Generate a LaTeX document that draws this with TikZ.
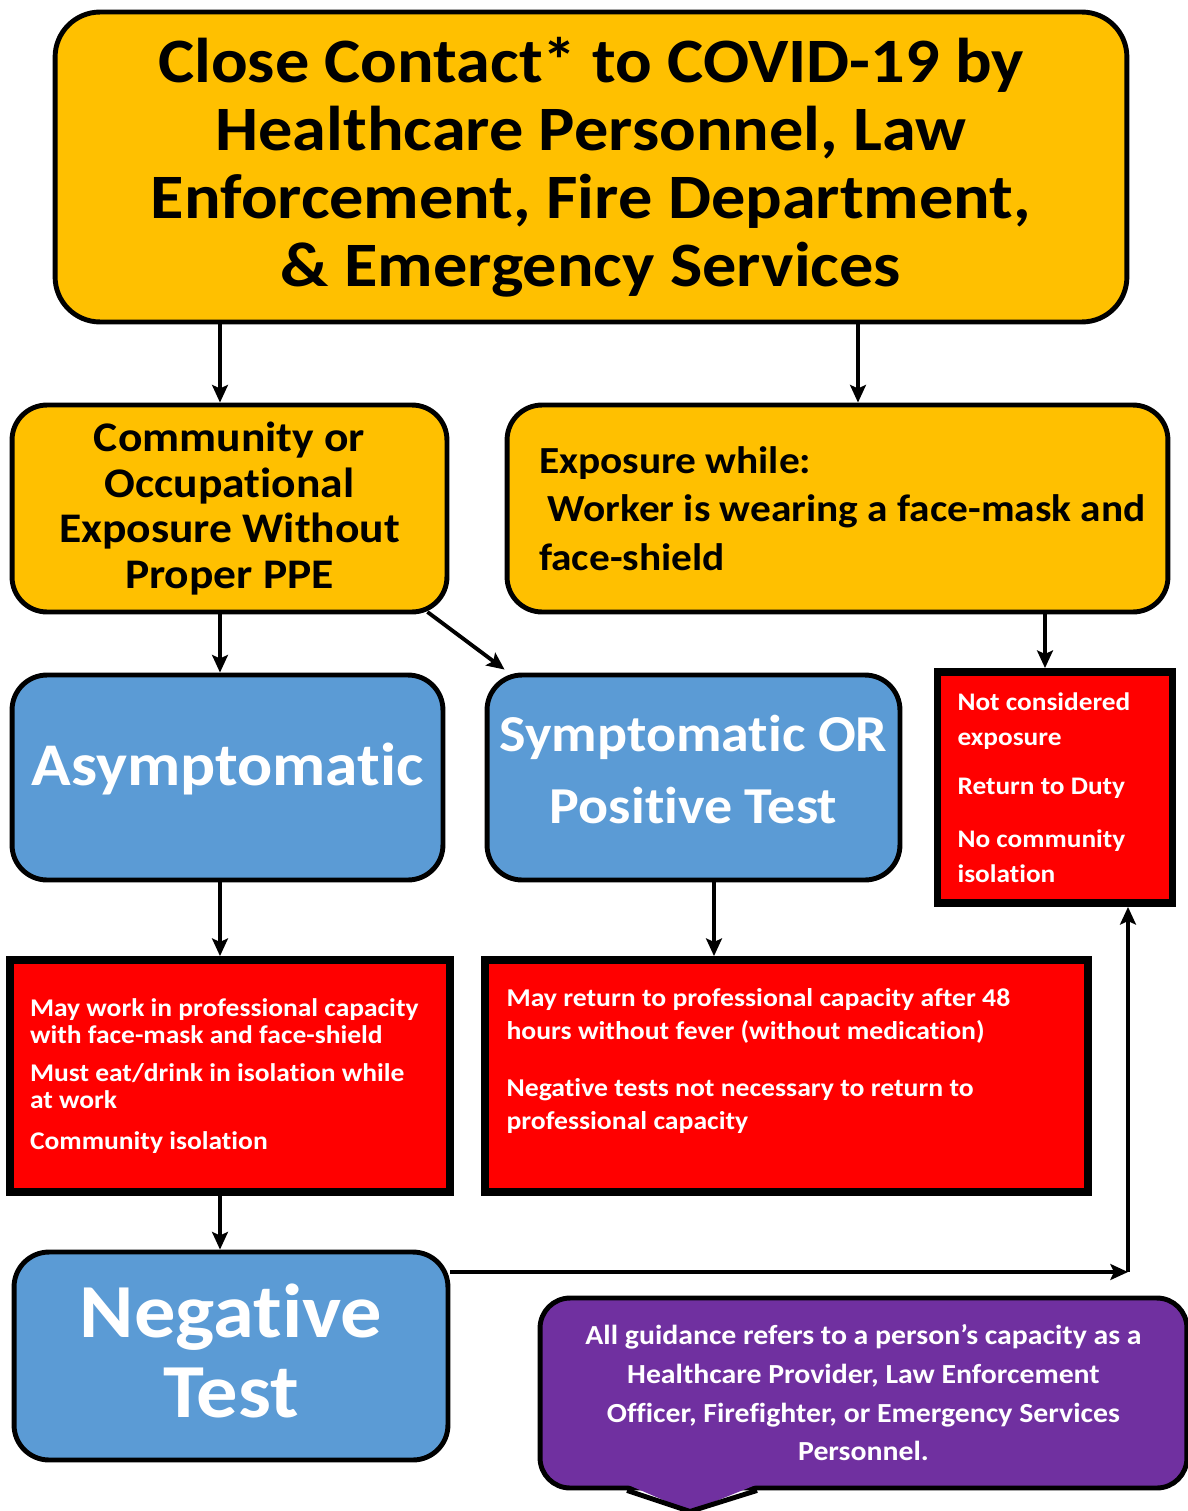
\documentclass[tikz,border=0pt]{standalone}
\usepackage{fontspec}
\setmainfont{Carlito}[FakeStretch=1.08, Ligatures=NoCommon]
\usetikzlibrary{arrows.meta}
\definecolor{boxorange}{HTML}{FFC000}
\definecolor{boxblue}{HTML}{5B9BD5}
\definecolor{boxred}{HTML}{FF0000}
\definecolor{boxpurple}{HTML}{7030A0}
\tikzset{
  orangebox/.style={draw=black, line width=2.8pt, fill=boxorange, rounded corners=0.7cm, align=center},
  bluebox/.style={draw=black, line width=2.8pt, fill=boxblue, rounded corners=0.7cm, align=center, text=white},
  redbox/.style={draw=black, line width=4.5pt, fill=boxred, text=white, align=flush left, inner xsep=0.4cm},
  arr/.style={line width=2.2pt, -{Stealth[length=10pt,width=9pt,inset=2pt]}}
}
\begin{document}
\begin{tikzpicture}[x=0.02cm, y=-0.02cm]
\useasboundingbox (0,0) rectangle (1187,1511);
%% Top box with the main heading
\node[orangebox, minimum width=21.44cm, minimum height=6.2cm, rounded corners=0.9cm,
  font=\bfseries\fontsize{36}{38.8}\selectfont] (contact) at (591,167)
  {Close Contact* to COVID-19 by\\Healthcare Personnel, Law\\Enforcement, Fire Department,\\\& Emergency Services};
%% Second row: the two kinds of exposure
\node[orangebox, minimum width=8.7cm, minimum height=4.14cm, font=\bfseries\fontsize{24}{26}\selectfont] (community) at (229.5,508.5)
  {Community or\\Occupational\\Exposure Without\\Proper PPE};
\node[orangebox, minimum width=13.22cm, minimum height=4.14cm, align=flush left, text width=12.7cm,
  font=\bfseries\fontsize{21.8}{27.5}\selectfont] (masked) at (837.5,508.5)
  {\hspace*{0.38cm}Exposure while:\\\hspace*{0.55cm}Worker is wearing a face-mask and\\\hspace*{0.38cm}face-shield};
%% Third row
\node[bluebox, minimum width=8.62cm, minimum height=4.1cm, text depth=15pt, font=\bfseries\fontsize{34.5}{40}\selectfont] (asym) at (227.5,777.5)
  {Asymptomatic};
\node[bluebox, minimum width=8.26cm, minimum height=4.1cm, text depth=9pt, font=\bfseries\fontsize{29.5}{41}\selectfont] (sym) at (693.5,777.5)
  {Symptomatic OR\\Positive Test};
\node[redbox, minimum width=4.6cm, minimum height=4.62cm, text width=3.9cm,
  font=\bfseries\fontsize{14.4}{20}\selectfont] (noexp) at (1055,787.5)
  {Not considered\\exposure\\[8pt]Return to Duty\\[10pt]No community\\isolation};
%% Fourth row: what to do
\node[redbox, minimum width=8.8cm, minimum height=4.64cm, text width=8.0cm,
  font=\bfseries\fontsize{14.5}{15.5}\selectfont] (work) at (230,1076)
  {May work in professional capacity\\with face-mask and face-shield\\[6pt]Must eat/drink in isolation while\\at work\\[8pt]Community isolation};
\node[redbox, minimum width=12.06cm, minimum height=4.64cm,
  font=\bfseries\fontsize{14.6}{19}\selectfont] (return) at (786.5,1076)
  {\parbox[c][4.1cm][t]{11.2cm}{\raggedright\vspace*{0.3cm}May return to professional capacity after 48\\hours without fever (without medication)\\[13pt]Negative tests not necessary to return to\\professional capacity}};
%% Bottom row
\node[bluebox, minimum width=8.68cm, minimum height=4.16cm, text depth=6pt, font=\bfseries\fontsize{43.5}{46}\selectfont] (neg) at (231,1356)
  {Negative\\Test};
\node[fill=boxpurple, draw=black, line width=2.8pt, rounded corners=0.6cm, minimum width=12.94cm, minimum height=3.8cm,
  text=white, align=center, font=\bfseries\fontsize{15.7}{22}\selectfont] (note) at (863.5,1393)
  {All guidance refers to a person's capacity as a\\Healthcare Provider, Law Enforcement\\Officer, Firefighter, or Emergency Services\\Personnel.};
%% the little point under the purple box
\fill[boxpurple] ([xshift=-4.73cm,yshift=0.12cm]note.south) -- ([xshift=-2.13cm,yshift=0.12cm]note.south) -- ([xshift=-3.47cm,yshift=-0.42cm]note.south) -- cycle;
\draw[line width=2.8pt, line join=round] ([xshift=-4.73cm]note.south) -- ([xshift=-3.47cm,yshift=-0.42cm]note.south) -- ([xshift=-2.13cm]note.south);
%% Connectors
\draw[arr] ([xshift=-0.19cm]community.north |- contact.south) -- ([xshift=-0.19cm]community.north);
\draw[arr] ([xshift=0.41cm]masked.north |- contact.south) -- ([xshift=0.41cm]masked.north);
\draw[arr] ([xshift=-0.15cm]asym.north |- community.south) -- ([xshift=-0.15cm]asym.north);
\draw[arr] ([xshift=-0.44cm,yshift=0.05cm]community.south east) -- ([xshift=0.4cm,yshift=0.06cm]sym.north west);
\draw[arr] ([xshift=-0.2cm]noexp.north |- masked.south) -- ([xshift=-0.2cm]noexp.north);
\draw[arr] ([xshift=-0.2cm]work.north |- asym.south) -- ([xshift=-0.2cm]work.north);
\draw[arr] ([xshift=0.41cm]sym.south) -- ([xshift=0.41cm]sym.south |- return.north);
\draw[arr] ([xshift=-0.22cm]neg.north |- work.south) -- ([xshift=-0.22cm]neg.north);
\coordinate (turn) at (1128,1272);
\draw[arr] (turn -| neg.east) -- (turn);
\draw[arr] (turn) -- (turn |- noexp.south);
\end{tikzpicture}
\end{document}
